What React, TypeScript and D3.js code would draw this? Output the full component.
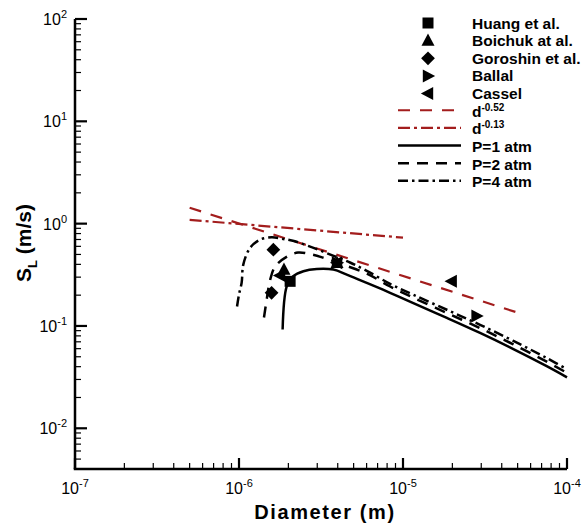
import React from "react";
import * as d3 from "d3";

// ---- data ----
const p1Diam = [1.845e-6, 1.955e-6, 2.14e-6, 2.47e-6, 2.98e-6, 3.76e-6, 4.54e-6, 6.01e-6, 8.34e-6, 1.156e-5, 1.85e-5, 2.95e-5, 4.71e-5, 7.52e-5, 1e-4];
const p1Speed = [0.0925, 0.244, 0.306, 0.343, 0.361, 0.356, 0.318, 0.264, 0.211, 0.167, 0.12, 0.0855, 0.0595, 0.0405, 0.0315];

const p2Diam = [1.42e-6, 1.46e-6, 1.55e-6, 1.66e-6, 1.96e-6, 2.29e-6, 2.79e-6, 3.25e-6, 4.13e-6, 6.01e-6, 8.34e-6, 1.156e-5, 1.85e-5, 2.95e-5, 4.71e-5, 7.52e-5, 1e-4];
const p2Speed = [0.121, 0.162, 0.284, 0.38, 0.476, 0.521, 0.499, 0.466, 0.407, 0.325, 0.243, 0.189, 0.134, 0.0953, 0.066, 0.0448, 0.0348];

const p4Diam = [9.73e-7, 1.0e-6, 1.038e-6, 1.062e-6, 1.168e-6, 1.343e-6, 1.58e-6, 1.86e-6, 2.19e-6, 2.82e-6, 3.74e-6, 4.75e-6, 6.01e-6, 8.34e-6, 1.156e-5, 1.85e-5, 2.95e-5, 4.71e-5, 7.52e-5, 1e-4];
const p4Speed = [0.155, 0.203, 0.265, 0.398, 0.579, 0.698, 0.735, 0.709, 0.672, 0.583, 0.487, 0.417, 0.346, 0.258, 0.202, 0.144, 0.1026, 0.0714, 0.0486, 0.0377];

const fit052Diam = [5e-7, 5e-5];
const fit052Speed = [1.43, 0.135];
const fit013Diam = [5e-7, 1e-5];
const fit013Speed = [1.09, 0.73];

const huangD = [2.05e-6];
const huangS = [0.273];
const boichukD = [1.88e-6, 3.96e-6];
const boichukS = [0.356, 0.414];
const goroshinD = [1.62e-6, 1.58e-6];
const goroshinS = [0.557, 0.211];
const ballalD = [3.96e-6, 2.81e-5];
const ballalS = [0.414, 0.125];
const casselD = [1.78e-6, 3.96e-6, 1.98e-5];
const casselS = [0.311, 0.414, 0.273];

const xMajor = [-7, -6, -5, -4];
const yMajor = [-2, -1, 0, 1, 2];

const RED = "#a31d1d";

type Shape = "square" | "up" | "diamond" | "right" | "left";

function markerPath(shape: Shape, cx: number, cy: number, s: number): string {
  const h = s / 2;
  switch (shape) {
    case "square":
      return `M${cx - h},${cy - h}H${cx + h}V${cy + h}H${cx - h}Z`;
    case "up":
      return `M${cx},${cy - h * 1.1}L${cx + h},${cy + h * 0.8}L${cx - h},${cy + h * 0.8}Z`;
    case "diamond":
      return `M${cx},${cy - h * 1.25}L${cx + h * 1.25},${cy}L${cx},${cy + h * 1.25}L${cx - h * 1.25},${cy}Z`;
    case "right":
      return `M${cx + h * 1.1},${cy}L${cx - h * 0.8},${cy + h}L${cx - h * 0.8},${cy - h}Z`;
    case "left":
      return `M${cx - h * 1.1},${cy}L${cx + h * 0.8},${cy + h}L${cx + h * 0.8},${cy - h}Z`;
  }
}

export default function App() {
  const W = 587, H = 526;
  const x = d3.scaleLog().domain([1e-7, 1e-4]).range([75, 567]);
  const y = d3.scaleLog().domain([0.004, 100]).range([469, 19]);

  const line = d3
    .line<[number, number]>()
    .x((d) => x(d[0]))
    .y((d) => y(d[1]))
    .curve(d3.curveCatmullRom.alpha(0.5));

  const zip = (a: number[], b: number[]) => a.map((v, i) => [v, b[i]] as [number, number]);

  const xMinor: number[] = [];
  for (let e = -7; e < -4; e++) for (let k = 2; k <= 9; k++) xMinor.push(k * Math.pow(10, e));
  const yMinor: number[] = [];
  for (let e = -3; e < 2; e++)
    for (let k = 2; k <= 9; k++) {
      const v = k * Math.pow(10, e);
      if (v > 0.0041) yMinor.push(v);
    }

  const x0 = x(1e-7);
  const yb = y(0.004);
  const font = "'Liberation Sans', Arial, Helvetica, sans-serif";

  const markers: { shape: Shape; d: number[]; s: number[]; size: number }[] = [
    { shape: "diamond", d: goroshinD, s: goroshinS, size: 11 },
    { shape: "up", d: boichukD, s: boichukS, size: 13 },
    { shape: "left", d: casselD, s: casselS, size: 13 },
    { shape: "right", d: ballalD, s: ballalS, size: 13 },
    { shape: "square", d: huangD, s: huangS, size: 11 },
  ];

  const legendMarkers: { shape: Shape; label: string; size: number }[] = [
    { shape: "square", label: "Huang et al.", size: 11 },
    { shape: "up", label: "Boichuk at al.", size: 13 },
    { shape: "diamond", label: "Goroshin et al.", size: 11 },
    { shape: "right", label: "Ballal", size: 13 },
    { shape: "left", label: "Cassel", size: 13 },
  ];
  const legendLines = [
    { color: RED, dash: "12,10", width: 2.2, label: "d", sup: "-0.52" },
    { color: RED, dash: "12,4,3,4", width: 2.2, label: "d", sup: "-0.13" },
    { color: "#000", dash: "none", width: 2.5, label: "P=1 atm", sup: "" },
    { color: "#000", dash: "11,8", width: 2.5, label: "P=2 atm", sup: "" },
    { color: "#000", dash: "10,4,2.5,4", width: 2.5, label: "P=4 atm", sup: "" },
  ];
  const rowY = (i: number) => 23 + i * 17.65;
  const legMX = 428;
  const legTX = 472;
  const legL0 = 398, legL1 = 461;

  return (
    <svg width={W} height={H} style={{ position: "absolute", left: 0, top: 0, background: "#fff" }} fontFamily={font}>
      <rect x={0} y={0} width={W} height={H} fill="#fff" />
      {/* curves */}
      <path d={line(zip(fit052Diam, fit052Speed)) || ""} fill="none" stroke={RED} strokeWidth={2.2} strokeDasharray="12,10" />
      <path d={line(zip(fit013Diam, fit013Speed)) || ""} fill="none" stroke={RED} strokeWidth={2.2} strokeDasharray="12,4,3,4" />
      <path d={line(zip(p1Diam, p1Speed)) || ""} fill="none" stroke="#000" strokeWidth={2.5} />
      <path d={line(zip(p2Diam, p2Speed)) || ""} fill="none" stroke="#000" strokeWidth={2.5} strokeDasharray="11,8" />
      <path d={line(zip(p4Diam, p4Speed)) || ""} fill="none" stroke="#000" strokeWidth={2.5} strokeDasharray="10,4,2.5,4" />
      {/* markers */}
      {markers.map((m) =>
        m.d.map((dv, i) => (
          <path key={m.shape + i} d={markerPath(m.shape, x(dv), y(m.s[i]), m.size)} fill="#000" />
        ))
      )}
      {/* axes */}
      <line x1={x0} y1={y(100)} x2={x0} y2={yb} stroke="#000" strokeWidth={2.5} />
      <line x1={x0 - 1.25} y1={yb} x2={x(1e-4)} y2={yb} stroke="#000" strokeWidth={2.5} />
      {yMajor.map((e) => (
        <line key={"ym" + e} x1={x0} x2={x0 + 12} y1={y(Math.pow(10, e))} y2={y(Math.pow(10, e))} stroke="#000" strokeWidth={2.2} />
      ))}
      {yMinor.map((v, i) => (
        <line key={"yn" + i} x1={x0} x2={x0 + 6} y1={y(v)} y2={y(v)} stroke="#000" strokeWidth={1.2} />
      ))}
      {xMajor.map((e) => (
        <line key={"xm" + e} x1={x(Math.pow(10, e))} x2={x(Math.pow(10, e))} y1={yb} y2={yb - 11} stroke="#000" strokeWidth={2.2} />
      ))}
      {xMinor.map((v, i) => (
        <line key={"xn" + i} x1={x(v)} x2={x(v)} y1={yb} y2={yb - 6} stroke="#000" strokeWidth={1.2} />
      ))}
      {/* tick labels */}
      {yMajor.map((e) => (
        <text key={"yl" + e} x={x0 - 8} y={y(Math.pow(10, e)) + 6} fontSize={16} textAnchor="end">
          10<tspan dy={-7} fontSize={11}>{e}</tspan>
        </text>
      ))}
      {xMajor.map((e) => (
        <text key={"xl" + e} x={x(Math.pow(10, e))} y={yb + 25} fontSize={16} textAnchor="middle">
          10<tspan dy={-7} fontSize={11}>{e}</tspan>
        </text>
      ))}
      {/* axis titles */}
      <text x={(x0 + x(1e-4)) / 2 + 4} y={519} fontSize={20} fontWeight="bold" textAnchor="middle" letterSpacing={1.6}>
        Diameter (m)
      </text>
      <text transform={`translate(31,243) rotate(-90)`} fontSize={21} fontWeight="bold" textAnchor="middle">
        S<tspan dy={6} fontSize={13}>L</tspan>
        <tspan dy={-6}> (m/s)</tspan>
      </text>
      {/* legend */}
      {legendMarkers.map((m, i) => (
        <g key={"lm" + i}>
          <path d={markerPath(m.shape, legMX, rowY(i), m.size)} fill="#000" />
          <text x={legTX} y={rowY(i) + 5.5} fontSize={15.5} fontWeight="bold">
            {m.label}
          </text>
        </g>
      ))}
      {legendLines.map((l, j) => {
        const i = j + 5;
        return (
          <g key={"ll" + j}>
            <line x1={legL0} x2={legL1} y1={rowY(i) - 1} y2={rowY(i) - 1} stroke={l.color} strokeWidth={l.width} strokeDasharray={l.dash} />
            <text x={legTX} y={rowY(i) + 5.5} fontSize={15.5} fontWeight="bold">
              {l.label}
              {l.sup && (
                <tspan dy={-6} fontSize={10}>
                  {l.sup}
                </tspan>
              )}
            </text>
          </g>
        );
      })}
    </svg>
  );
}
